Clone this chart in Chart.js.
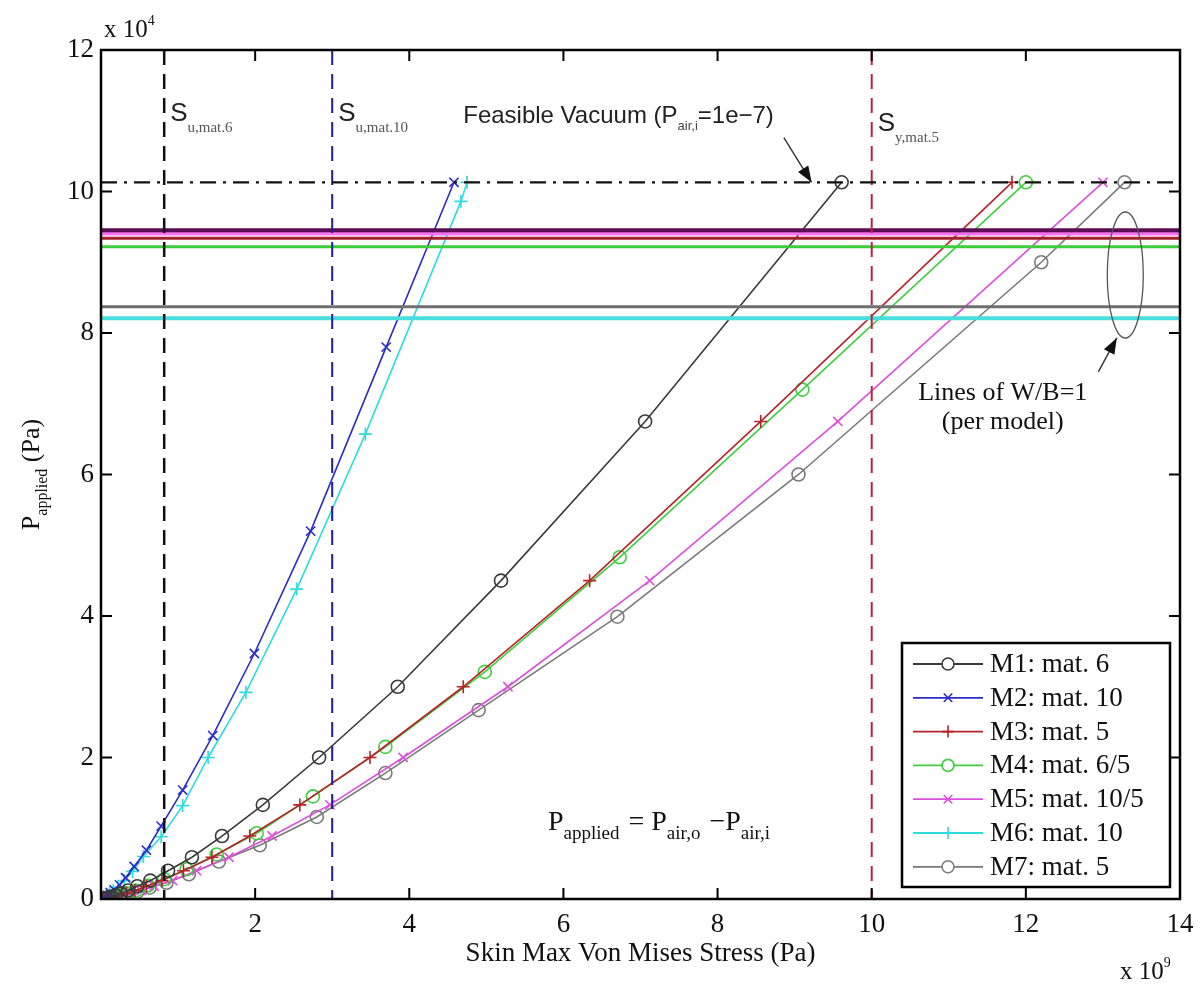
<!DOCTYPE html>
<html>
<head>
<meta charset="utf-8">
<script src="https://cdn.jsdelivr.net/npm/chart.js@4.4.0/dist/chart.umd.min.js"></script>
<style>
  html, body { margin: 0; padding: 0; background: #ffffff; }
  #wrap { width: 1204px; height: 986px; position: relative; }
</style>
</head>
<body>
<div id="wrap"><canvas id="c" width="1204" height="986"></canvas></div>
<script>
// Skin max von Mises stress (x 1e9 Pa) against applied pressure (x 1e4 Pa)
const m1Stress = [9.61, 7.06, 5.19, 3.85, 2.83, 2.10, 1.57, 1.18, 0.87, 0.64, 0.47, 0.35, 0.26, 0.19, 0.14, 0.10, 0.07, 0.04];
const m1Press  = [10.13, 6.75, 4.50, 3.00, 2.00, 1.33, 0.89, 0.59, 0.40, 0.26, 0.18, 0.12, 0.08, 0.05, 0.035, 0.023, 0.015, 0.008];

const m2Stress = [4.58, 3.70, 2.72, 1.99, 1.45, 1.06, 0.78, 0.59, 0.43, 0.32, 0.24, 0.17, 0.12, 0.08, 0.05];
const m2Press  = [10.13, 7.80, 5.20, 3.47, 2.31, 1.54, 1.03, 0.69, 0.46, 0.30, 0.20, 0.13, 0.09, 0.05, 0.02];

const m3Stress = [11.82, 8.56, 6.34, 4.70, 3.49, 2.58, 1.93, 1.44, 1.07, 0.79, 0.59, 0.44, 0.33, 0.24, 0.18, 0.13, 0.09, 0.05];
const m3Press  = [10.13, 6.75, 4.50, 3.00, 2.00, 1.33, 0.89, 0.59, 0.40, 0.26, 0.18, 0.12, 0.08, 0.05, 0.035, 0.023, 0.015, 0.008];

const m4Stress = [12.00, 9.10, 6.73, 4.98, 3.69, 2.75, 2.02, 1.50, 1.11, 0.82, 0.61, 0.45, 0.33, 0.24, 0.17, 0.12, 0.08];
const m4Press  = [10.13, 7.20, 4.83, 3.21, 2.15, 1.45, 0.93, 0.63, 0.42, 0.28, 0.19, 0.12, 0.08, 0.055, 0.036, 0.024, 0.014];

const m5Stress = [13.00, 9.56, 7.12, 5.28, 3.92, 2.97, 2.22, 1.66, 1.24, 0.93, 0.69, 0.52, 0.39, 0.29, 0.21, 0.15, 0.10, 0.06];
const m5Press  = [10.13, 6.75, 4.50, 3.00, 2.00, 1.33, 0.89, 0.59, 0.40, 0.26, 0.18, 0.12, 0.08, 0.05, 0.035, 0.023, 0.015, 0.008];

const m6Stress = [4.75, 4.67, 3.43, 2.54, 1.88, 1.39, 1.06, 0.78, 0.55, 0.41, 0.30, 0.22, 0.16, 0.11, 0.07, 0.04];
const m6Press  = [10.13, 9.86, 6.57, 4.38, 2.92, 2.00, 1.32, 0.88, 0.60, 0.39, 0.26, 0.17, 0.12, 0.08, 0.05, 0.02];

const m7Stress = [13.28, 12.20, 9.05, 6.70, 4.90, 3.69, 2.80, 2.06, 1.53, 1.14, 0.85, 0.63, 0.47, 0.35, 0.26, 0.19, 0.14, 0.09];
const m7Press  = [10.13, 9.00, 6.00, 3.99, 2.67, 1.78, 1.16, 0.76, 0.53, 0.35, 0.23, 0.16, 0.10, 0.07, 0.046, 0.031, 0.02, 0.01];

const modelNames  = ['M1: mat. 6', 'M2: mat. 10', 'M3: mat. 5', 'M4: mat. 6/5', 'M5: mat. 10/5', 'M6: mat. 10', 'M7: mat. 5'];
const modelColors = ['#3a3a3a', '#2c2cc8', '#b8232a', '#3fcf3f', '#dd4fdd', '#2fdcdc', '#7a7a7a'];
const modelMarkers = ['circle', 'crossRot', 'cross', 'circle', 'crossRot', 'cross', 'circle'];

// Pressure at which W/B = 1 for each model (x 1e4 Pa), drawn as horizontal lines
const wbPressure = [9.45, 9.40, 9.34, 9.22, 8.37, 8.21];
const wbColors   = ['#5b0c55', '#ff6ef5', '#a3202e', '#3ccc3c', '#6f6f6f', '#49dede'];
const wbWidths   = [4.5, 3, 3, 3, 3, 4];

// Material strength limits (x 1e9 Pa) and sea-level outer pressure (x 1e4 Pa)
const strengthLimits = [0.82, 3.0, 10.0];
const strengthColors = ['#111111', '#1c1c9c', '#c0203c'];
const vacuumPressure = 10.13;

const xTickValues = [0, 2, 4, 6, 8, 10, 12, 14];
const yTickValues = [0, 2, 4, 6, 8, 10, 12];

const stressSets = [m1Stress, m2Stress, m3Stress, m4Stress, m5Stress, m6Stress, m7Stress];
const pressSets  = [m1Press, m2Press, m3Press, m4Press, m5Press, m6Press, m7Press];

const serif = '"Liberation Serif", "DejaVu Serif", serif';
const sans  = '"Liberation Sans", Arial, sans-serif';

const datasets = modelNames.map((name, i) => ({
  label: name,
  data: stressSets[i].map((s, k) => ({ x: s, y: pressSets[i][k] })),
  borderColor: modelColors[i],
  backgroundColor: 'rgba(0,0,0,0)',
  borderWidth: 1.6,
  showLine: true,
  pointStyle: modelMarkers[i],
  pointRadius: 6.5,
  pointBorderWidth: 1.6,
  pointBorderColor: modelColors[i],
  pointBackgroundColor: 'rgba(0,0,0,0)'
}));

// Text with a lowered subscript run
function richText(ctx, x, y, parts) {
  let cx = x;
  parts.forEach(p => {
    ctx.font = p.font;
    ctx.fillStyle = p.color || '#111';
    ctx.fillText(p.t, cx, y + (p.dy || 0));
    cx += ctx.measureText(p.t).width + (p.gap || 0);
  });
  return cx;
}

function arrow(ctx, x1, y1, x2, y2) {
  ctx.save();
  ctx.strokeStyle = '#333';
  ctx.fillStyle = '#111';
  ctx.lineWidth = 1.4;
  ctx.beginPath(); ctx.moveTo(x1, y1); ctx.lineTo(x2, y2); ctx.stroke();
  const a = Math.atan2(y2 - y1, x2 - x1);
  const L = 16, W = 6;
  ctx.beginPath();
  ctx.moveTo(x2, y2);
  ctx.lineTo(x2 - L * Math.cos(a) + W * Math.sin(a), y2 - L * Math.sin(a) - W * Math.cos(a));
  ctx.lineTo(x2 - L * Math.cos(a) - W * Math.sin(a), y2 - L * Math.sin(a) + W * Math.cos(a));
  ctx.closePath(); ctx.fill();
  ctx.restore();
}

const refLines = {
  id: 'refLines',
  afterDatasetsDraw(chart) {
    const { ctx, chartArea: a, scales: { x, y } } = chart;
    ctx.save();
    ctx.beginPath(); ctx.rect(a.left, a.top, a.width, a.height); ctx.clip();
    // W/B = 1 levels
    wbPressure.forEach((p, i) => {
      const py = y.getPixelForValue(p);
      ctx.strokeStyle = wbColors[i]; ctx.lineWidth = wbWidths[i]; ctx.setLineDash([]);
      ctx.beginPath(); ctx.moveTo(a.left, py); ctx.lineTo(a.right, py); ctx.stroke();
    });
    // strength limits
    strengthLimits.forEach((s, i) => {
      const px = x.getPixelForValue(s);
      ctx.strokeStyle = strengthColors[i]; ctx.lineWidth = i === 0 ? 2.5 : 2;
      ctx.setLineDash([15, 9]);
      ctx.beginPath(); ctx.moveTo(px, a.top); ctx.lineTo(px, a.bottom); ctx.stroke();
    });
    // outer pressure (feasible vacuum)
    const vy = y.getPixelForValue(vacuumPressure);
    ctx.strokeStyle = '#111'; ctx.lineWidth = 2.2; ctx.setLineDash([16, 7, 3, 7]);
    ctx.beginPath(); ctx.moveTo(a.left, vy); ctx.lineTo(a.right, vy); ctx.stroke();
    ctx.restore();
  },
  afterDraw(chart) {
    const { ctx, chartArea: a, scales: { x, y } } = chart;
    ctx.save();
    // frame and inward ticks
    ctx.strokeStyle = '#000'; ctx.lineWidth = 2.5; ctx.setLineDash([]);
    ctx.strokeRect(a.left, a.top, a.width, a.height);
    ctx.lineWidth = 2;
    xTickValues.forEach(v => {
      const px = x.getPixelForValue(v);
      ctx.beginPath(); ctx.moveTo(px, a.bottom); ctx.lineTo(px, a.bottom - 11);
      ctx.moveTo(px, a.top); ctx.lineTo(px, a.top + 11); ctx.stroke();
    });
    yTickValues.forEach(v => {
      const py = y.getPixelForValue(v);
      ctx.beginPath(); ctx.moveTo(a.left, py); ctx.lineTo(a.left + 11, py);
      ctx.moveTo(a.right, py); ctx.lineTo(a.right - 11, py); ctx.stroke();
    });

    ctx.textBaseline = 'alphabetic';
    ctx.textAlign = 'left';
    // exponent labels
    richText(ctx, a.left + 3, a.top - 13, [
      { t: 'x 10', font: '25px ' + serif },
      { t: '4', font: '14px ' + serif, dy: -12 }
    ]);
    richText(ctx, a.right - 60, a.bottom + 80, [
      { t: 'x 10', font: '25px ' + serif },
      { t: '9', font: '14px ' + serif, dy: -12 }
    ]);

    // y axis title
    ctx.save();
    ctx.translate(a.left - 62, y.getPixelForValue(6));
    ctx.rotate(-Math.PI / 2);
    ctx.font = '26px ' + serif;
    const w1 = ctx.measureText('P').width;
    ctx.font = '16px ' + serif;
    const w2 = ctx.measureText('applied').width;
    ctx.font = '26px ' + serif;
    const w3 = ctx.measureText(' (Pa)').width;
    richText(ctx, -(w1 + w2 + w3) / 2, 0, [
      { t: 'P', font: '26px ' + serif },
      { t: 'applied', font: '16px ' + serif, dy: 8 },
      { t: ' (Pa)', font: '26px ' + serif }
    ]);
    ctx.restore();

    // strength limit labels
    const sub = '15px ' + serif;
    richText(ctx, x.getPixelForValue(strengthLimits[0]) + 6, y.getPixelForValue(11.0), [
      { t: 'S', font: '26px ' + sans, color: '#222' },
      { t: 'u,mat.6', font: sub, dy: 11, color: '#555' }
    ]);
    richText(ctx, x.getPixelForValue(strengthLimits[1]) + 6, y.getPixelForValue(11.0), [
      { t: 'S', font: '26px ' + sans, color: '#222' },
      { t: 'u,mat.10', font: sub, dy: 11, color: '#555' }
    ]);
    richText(ctx, x.getPixelForValue(strengthLimits[2]) + 6, y.getPixelForValue(10.85), [
      { t: 'S', font: '26px ' + sans, color: '#222' },
      { t: 'y,mat.5', font: sub, dy: 11, color: '#555' }
    ]);

    // feasible vacuum note
    richText(ctx, x.getPixelForValue(4.7), y.getPixelForValue(10.97), [
      { t: 'Feasible Vacuum (P', font: '24px ' + sans, color: '#222' },
      { t: 'air,i', font: '13px ' + sans, dy: 7, color: '#444' },
      { t: '=1e\u22127)', font: '24px ' + sans, color: '#222' }
    ]);
    arrow(ctx, x.getPixelForValue(8.86), y.getPixelForValue(10.76), x.getPixelForValue(9.22), y.getPixelForValue(10.13));

    // pressure definition
    richText(ctx, x.getPixelForValue(5.8), y.getPixelForValue(0.98), [
      { t: 'P', font: '28px ' + serif },
      { t: 'applied', font: '19px ' + serif, dy: 9, gap: 2 },
      { t: ' = P', font: '28px ' + serif },
      { t: 'air,o', font: '19px ' + serif, dy: 9, gap: 2 },
      { t: ' \u2212P', font: '28px ' + serif },
      { t: 'air,i', font: '19px ' + serif, dy: 9 }
    ]);

    // W/B = 1 callout
    const ex = x.getPixelForValue(13.29), ey = y.getPixelForValue(8.82);
    ctx.strokeStyle = '#555'; ctx.lineWidth = 1.3;
    ctx.beginPath(); ctx.ellipse(ex, ey, 18, 63, 0, 0, Math.PI * 2); ctx.stroke();
    arrow(ctx, x.getPixelForValue(12.94), y.getPixelForValue(7.45), x.getPixelForValue(13.18), y.getPixelForValue(7.93));
    ctx.textAlign = 'center';
    ctx.font = '26px ' + serif; ctx.fillStyle = '#111';
    ctx.fillText('Lines of W/B=1', x.getPixelForValue(11.7), y.getPixelForValue(7.05));
    ctx.fillText('(per model)', x.getPixelForValue(11.7), y.getPixelForValue(6.64));

    // legend
    const lx = a.right - 278, ly = a.bottom - 256, lw = 268, lh = 244;
    ctx.fillStyle = '#fff';
    ctx.fillRect(lx, ly, lw, lh);
    ctx.strokeStyle = '#000'; ctx.lineWidth = 2.5;
    ctx.strokeRect(lx, ly, lw, lh);
    ctx.textAlign = 'left'; ctx.textBaseline = 'middle';
    chart.data.datasets.forEach((ds, i) => {
      const ry = ly + 21 + i * 33.8;
      ctx.strokeStyle = ds.borderColor; ctx.lineWidth = 1.8;
      ctx.beginPath(); ctx.moveTo(lx + 11, ry); ctx.lineTo(lx + 81, ry); ctx.stroke();
      ctx.fillStyle = '#ffffff';
      ctx.strokeStyle = ds.borderColor; ctx.lineWidth = 1.6;
      Chart.helpers.drawPoint(ctx, { pointStyle: ds.pointStyle, radius: 6, borderWidth: 1.6, rotation: 0 }, lx + 46, ry);
      ctx.fillStyle = '#111'; ctx.font = '27px ' + serif;
      ctx.fillText(ds.label, lx + 88, ry + 1);
    });
    ctx.restore();
  }
};

new Chart(document.getElementById('c'), {
  type: 'scatter',
  data: { datasets },
  options: {
    responsive: false,
    animation: false,
    devicePixelRatio: 1,
    layout: { padding: { top: 50, right: 24, left: 0, bottom: 0 } },
    plugins: { legend: { display: false }, tooltip: { enabled: false } },
    scales: {
      x: {
        type: 'linear', min: 0, max: 14,
        afterFit(s) { s.height = 87; },
        grid: { display: false, drawTicks: false },
        border: { display: false },
        ticks: {
          stepSize: 2, padding: 10, color: '#111',
          font: { family: serif, size: 27 },
          callback: v => (v === 0 ? '' : String(v))
        },
        title: {
          display: true, text: 'Skin Max Von Mises Stress (Pa)', color: '#111',
          font: { family: serif, size: 27 }, padding: { top: 0, bottom: 16 }
        }
      },
      y: {
        type: 'linear', min: 0, max: 12,
        afterFit(s) { s.width = 101; },
        grid: { display: false, drawTicks: false },
        border: { display: false },
        ticks: {
          stepSize: 2, padding: 7, color: '#111',
          font: { family: serif, size: 27 }
        }
      }
    }
  },
  plugins: [refLines]
});
</script>
</body>
</html>
